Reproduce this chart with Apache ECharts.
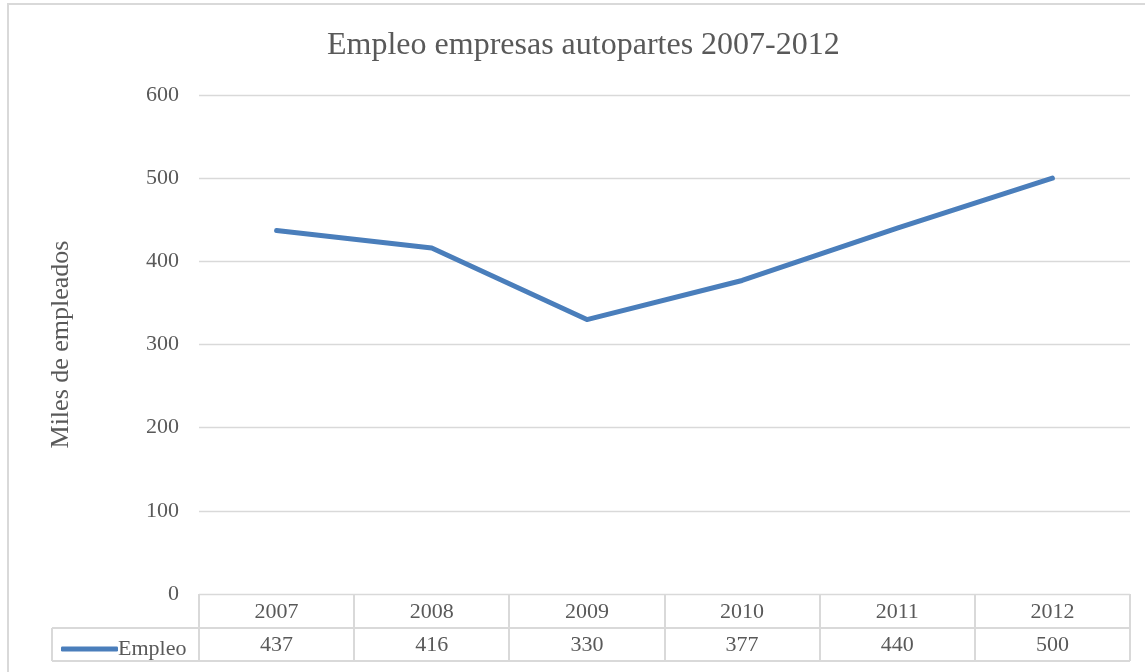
<!DOCTYPE html>
<html>
<head>
<meta charset="utf-8">
<script src="https://cdn.jsdelivr.net/npm/echarts@6/dist/echarts.min.js"></script>
<style>
html,body{margin:0;padding:0;background:#fff;}
#c{width:1145px;height:672px;}
</style>
</head>
<body>
<div id="c"></div>
<script>
const title = 'Empleo empresas autopartes 2007-2012';
const yAxisName = 'Miles de empleados';
const seriesName = 'Empleo';
const years = ['2007', '2008', '2009', '2010', '2011', '2012'];
const empleo = [437, 416, 330, 377, 440, 500];
const yTicks = [0, 100, 200, 300, 400, 500, 600];

const FONT = '"Liberation Serif", "Times New Roman", serif';
const TXT = '#595959';
const GRIDC = '#d9d9d9';
const LINEC = '#4a7ebb';

const chart = echarts.init(document.getElementById('c'), null, {renderer: 'canvas'});
const option = {
  animation: false,
  backgroundColor: '#fff',
  title: {
    text: title, left: 322, top: 25,
    textStyle: {fontFamily: FONT, fontSize: 32, fontWeight: 'normal', color: TXT}
  },
  legend: {
    data: [seriesName], left: 56, top: 633, icon: 'roundRect',
    itemWidth: 57, itemHeight: 5, itemGap: 0,
    textStyle: {fontFamily: FONT, fontSize: 22, color: TXT, padding: [0, 0, 0, -5]}
  },
  grid: {left: 199, right: 15, top: 95, bottom: 78, containLabel: false},
  xAxis: [{
    type: 'category', data: years, boundaryGap: true, position: 'bottom',
    axisLine: {show: true, lineStyle: {color: GRIDC, width: 1}},
    axisTick: {show: false},
    axisLabel: {fontFamily: FONT, fontSize: 22, color: TXT, margin: 7}
  }, {
    type: 'category', data: years, boundaryGap: true, position: 'bottom', offset: 34,
    axisLine: {show: false}, axisTick: {show: false},
    axisLabel: {fontFamily: FONT, fontSize: 22, color: TXT, margin: 6,
      formatter: (v, i) => String(empleo[i])}
  }],
  yAxis: {
    type: 'value', min: yTicks[0], max: yTicks[yTicks.length - 1], interval: 100,
    name: yAxisName, nameLocation: 'middle', nameGap: 125, nameRotate: 90,
    nameTextStyle: {fontFamily: FONT, fontSize: 26, color: TXT},
    axisLine: {show: false}, axisTick: {show: false},
    axisLabel: {fontFamily: FONT, fontSize: 22, color: TXT, margin: 20},
    splitLine: {lineStyle: {color: GRIDC, width: 1.3}}
  },
  series: [{
    name: seriesName, type: 'line', data: empleo, xAxisIndex: 0,
    symbol: 'none', lineStyle: {color: LINEC, width: 5, cap: 'round', join: 'round'},
    itemStyle: {color: LINEC}
  }]
};
chart.setOption(option);

// Build data table borders from the axis scale
const c0 = chart.convertToPixel({xAxisIndex: 0}, years[0]);
const c1 = chart.convertToPixel({xAxisIndex: 0}, years[1]);
const band = c1 - c0;
const y0 = chart.convertToPixel({yAxisIndex: 0}, 0);
const rowH1 = 34, rowH2 = 33;
const xL = c0 - band / 2;
const xR = xL + band * years.length;
const legendLeft = 52;
const els = [];
const ln = (x1, y1, x2, y2) => els.push({type: 'line', shape: {x1, y1, x2, y2},
  style: {stroke: GRIDC, lineWidth: 2}, silent: true});
for (let i = 0; i <= years.length; i++) {
  const x = Math.round(xL + band * i);
  ln(x, y0, x, y0 + rowH1 + rowH2);
}
ln(xL, y0 + rowH1, xR, y0 + rowH1);
ln(legendLeft, y0 + rowH1, xL, y0 + rowH1);
ln(legendLeft, y0 + rowH1 + rowH2, xR, y0 + rowH1 + rowH2);
ln(legendLeft, y0 + rowH1, legendLeft, y0 + rowH1 + rowH2);
// outer chart border
els.push({type: 'rect', shape: {x: 8, y: 4, width: 1300, height: 800},
  style: {fill: null, stroke: GRIDC, lineWidth: 2}, silent: true, z: -1});
chart.setOption({graphic: els});
</script>
</body>
</html>
